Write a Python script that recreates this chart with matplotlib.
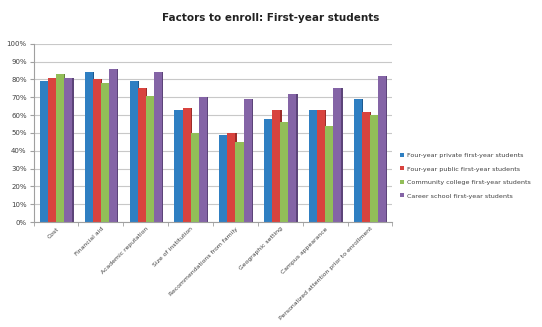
import matplotlib
matplotlib.use("Agg")
import matplotlib.pyplot as plt
import numpy as np

categories = ["Cost", "Financial aid", "Academic reputation", "Size of institution",
              "Recommendations from family", "Geographic setting", "Campus appearance",
              "Personalized attention prior to enrollment"]
series_names = ["Four-year private first-year students", "Four-year public first-year students",
                "Community college first-year students", "Career school first-year students"]
private4 = [79, 84, 79, 63, 49, 58, 63, 69]
public4 = [81, 80, 75, 64, 50, 63, 63, 62]
community = [83, 78, 71, 50, 45, 56, 54, 60]
career = [81, 86, 84, 70, 69, 72, 75, 82]
yticks = [0, 10, 20, 30, 40, 50, 60, 70, 80, 90, 100]

colors = ["#2f7fc2", "#d8433e", "#92be58", "#8464a6"]
sides = ["#1d5a8f", "#9c2d2a", "#64853b", "#5c4479"]

fig = plt.figure(figsize=(5.42, 3.27), dpi=100)
ax = fig.add_axes([0.062, 0.321, 0.662, 0.545])

x = np.arange(len(categories))
w = 0.18
data = [private4, public4, community, career]
for i, (vals, c, sc) in enumerate(zip(data, colors, sides)):
    pos = x + (i - 1.5) * w
    ax.bar(pos + 0.03, vals, w, bottom=0, color=sc, zorder=2 + i * 0.1)
    ax.bar(pos, vals, w, color=c, zorder=2.05 + i * 0.1, label=series_names[i])

ax.set_xlim(-0.5, len(categories) - 0.5)
ax.set_ylim(0, 100)
ax.set_yticks(yticks)
ax.set_yticklabels([f"{t}%" for t in yticks], fontsize=5, color="#404040")
ax.yaxis.grid(True, color="#c8c8c8", linewidth=0.8, zorder=0)
ax.set_axisbelow(True)
ax.set_xticks(x)
ax.set_xticklabels(categories, rotation=45, ha="right", rotation_mode="anchor",
                   fontsize=4.4, color="#404040")
ax.set_xticks(np.arange(len(categories) + 1) - 0.5, minor=True)
ax.tick_params(axis="x", which="major", length=0, pad=3)
ax.tick_params(axis="x", which="minor", length=3, color="#a0a0a0")
ax.tick_params(axis="y", length=3, color="#a0a0a0", pad=2)
for s in ["top", "right"]:
    ax.spines[s].set_visible(False)
ax.spines["left"].set_color("#a0a0a0")
ax.spines["bottom"].set_color("#a0a0a0")

fig.text(0.5, 0.945, "Factors to enroll: First-year students", ha="center", va="center",
         fontsize=7.5, fontweight="bold", color="#222222")

leg = ax.legend(loc="center left", bbox_to_anchor=(1.005, 0.26), frameon=False,
                fontsize=4.6, handlelength=0.6, handleheight=0.6, handletextpad=0.5,
                labelspacing=1.3, labelcolor="#404040")

fig.savefig("out.png", dpi=100)
